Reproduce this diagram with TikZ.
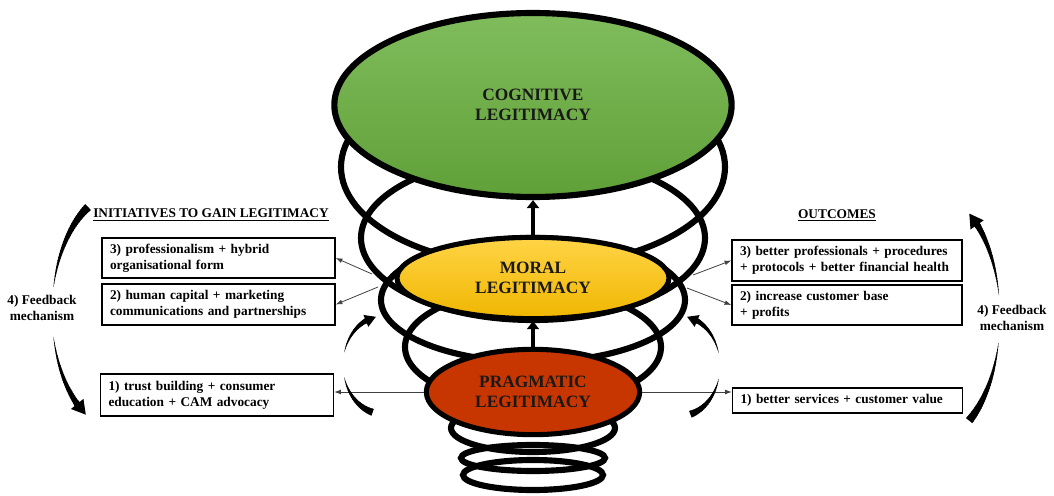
\documentclass[tikz,border=0pt]{standalone}
\usepackage{fontspec}
\setmainfont{Liberation Serif}
\usetikzlibrary{shapes.geometric,arrows.meta}
% tapered arc: cx cy rx ry t_thin t_thick maxwidth(px) steps
\newcommand\taperarc[8]{%
  \foreach \k in {1,...,#8}{%
    \pgfmathsetmacro\ta{#5+(#6-#5)*(\k-1)/#8}%
    \pgfmathsetmacro\tb{#5+(#6-#5)*min(\k+0.4,#8)/#8}%
    \pgfmathsetmacro\ww{0.75*#7*\k/#8}%
    \draw[line width=\ww pt] ({#1+#3*cos(\ta)},{#2-#4*sin(\ta)}) -- ({#1+#3*cos(\tb)},{#2-#4*sin(\tb)});
  }}
% arrow head along arc: cx cy rx ry t_from t_tip linewidth(px) headlength(px) headwidth(px)
\newcommand\archead[9]{%
  \pgfmathsetmacro\lw{0.75*#7}%
  \pgfmathsetmacro\hl{0.75*#8}%
  \pgfmathsetmacro\hw{0.75*#9}%
  \draw[line width=\lw pt, -{Triangle[length=\hl pt, width=\hw pt]}] ({#1+#3*cos(#5)},{#2-#4*sin(#5)}) -- ({#1+#3*cos(#6)},{#2-#4*sin(#6)});
}
\begin{document}
\begin{tikzpicture}[x=0.75pt, y=-0.75pt,
  ring/.style={line width=4.6pt, black},
  legit/.style={ellipse, draw=black, inner sep=0pt, align=center,
    font=\bfseries\fontsize{13}{15}\selectfont, text=black!90},
  box/.style={draw=black, line width=1.1pt, fill=white, align=left, inner xsep=6pt,
    inner ysep=0pt, font=\bfseries\fontsize{10}{12}\selectfont},
  title/.style={font=\bfseries\fontsize{10}{12}\selectfont},
  thinarrow/.style={line width=0.6pt, draw=black!75, -{Latex[length=5pt, width=3.6pt]}},
  bigarrow/.style={line width=3pt, -{Triangle[length=6pt, width=9pt]}}
]
\useasboundingbox (0,0) rectangle (1054,496);

% spiral rings
\draw[ring] (533,167) ellipse [x radius=192, y radius=100];
\draw[ring] (533,238) ellipse [x radius=172, y radius=82];
\draw[ring] (533,300) ellipse [x radius=152, y radius=62];
\draw[ring] (533,347) ellipse [x radius=128, y radius=58];
\draw[ring] (533,428) ellipse [x radius=82, y radius=24];
\draw[ring] (533,458) ellipse [x radius=72, y radius=13];
\draw[ring] (533,475) ellipse [x radius=70, y radius=15];

% legitimacy ellipses
\node[legit, line width=4.6pt, minimum width=298pt, minimum height=138pt,
  top color={rgb,255:red,128;green,188;blue,92}, bottom color={rgb,255:red,96;green,160;blue,56}]
  (cog) at (533,105) {COGNITIVE\\LEGITIMACY};
\node[legit, line width=3.8pt, minimum width=204pt, minimum height=61pt,
  top color={rgb,255:red,255;green,212;blue,70}, bottom color={rgb,255:red,240;green,182;blue,0}]
  (mor) at (533,278) {MORAL\\LEGITIMACY};
\node[legit, line width=3.8pt, minimum width=160pt, minimum height=64pt,
  fill={rgb,255:red,200;green,54;blue,0}]
  (pra) at (533,392) {PRAGMATIC\\LEGITIMACY};

\draw[bigarrow] (pra.north) -- (mor.south);
\draw[bigarrow] (mor.north) -- (cog.south);

% titles
\node[title] (tL) at (211,215) {\underline{INITIATIVES TO GAIN LEGITIMACY}};
\node[title] (tR) at (837,215) {\underline{OUTCOMES}};

% boxes left
\node[box, text width=162.75pt, minimum height=30pt] (b3L) at (218.5,258)
  {3) professionalism + hybrid\\organisational form};
\node[box, text width=162.75pt, minimum height=30.5pt] (b2L) at (218.5,304.5)
  {2) human capital + marketing\\communications and partnerships};
\node[box, text width=162.75pt, minimum height=31.5pt] (b1L) at (217,395)
  {1) trust building + consumer\\education + CAM advocacy};
% boxes right
\node[box, text width=160.5pt, minimum height=30.5pt] (b3R) at (847,260.5)
  {3) better professionals + procedures\\+ protocols + better financial health};
\node[box, text width=160.5pt, minimum height=30pt] (b2R) at (847,305)
  {2) increase customer base\\+ profits};
\node[box, text width=160.5pt, minimum height=18.75pt] (b1R) at (847.5,400.5)
  {1) better services + customer value};

% feedback labels
\node[title, align=center] (fL) at (42,308) {4) Feedback\\mechanism};
\node[title, align=center] (fR) at (1012,318) {4) Feedback\\mechanism};

% thin arrows
\coordinate (a3L) at (372,274);
\coordinate (a2L) at (378,287);
\coordinate (a3R) at (693,275);
\coordinate (a2R) at (687,288);
\draw[thinarrow] (a3L) -- (b3L.east);
\draw[thinarrow] (a2L) -- (b2L.east);
\draw[thinarrow] (pra.west) -- (b1L.east |- pra.west);
\draw[thinarrow] (a3R) -- (b3R.west);
\draw[thinarrow] (a2R) -- (b2R.west);
\draw[thinarrow] (pra.east) -- (b1R.west |- pra.east);

% big feedback arcs, left
\taperarc{122}{312}{70}{120}{168}{119}{8}{30}
\taperarc{122}{312}{70}{120}{192}{231}{6}{30}
\archead{122}{312}{70}{120}{229}{239}{6}{14}{15}
% big feedback arcs, right
\taperarc{930}{317}{70}{125}{10}{48}{6}{30}
\archead{930}{317}{70}{125}{46}{56}{6}{14}{15}
\taperarc{930}{317}{70}{125}{-12}{-56}{8}{30}

% small arcs near pragmatic, left
\taperarc{383}{365}{40}{49}{165}{115}{5}{24}
\archead{383}{365}{40}{49}{117}{100}{5}{11}{12}
\taperarc{383}{365}{40}{49}{195}{255}{7}{24}
% small arcs, right
\taperarc{680}{366}{40}{50}{15}{65}{5}{24}
\archead{680}{366}{40}{50}{63}{80}{5}{11}{12}
\taperarc{680}{366}{40}{50}{-15}{-75}{7}{24}
\end{tikzpicture}
\end{document}
